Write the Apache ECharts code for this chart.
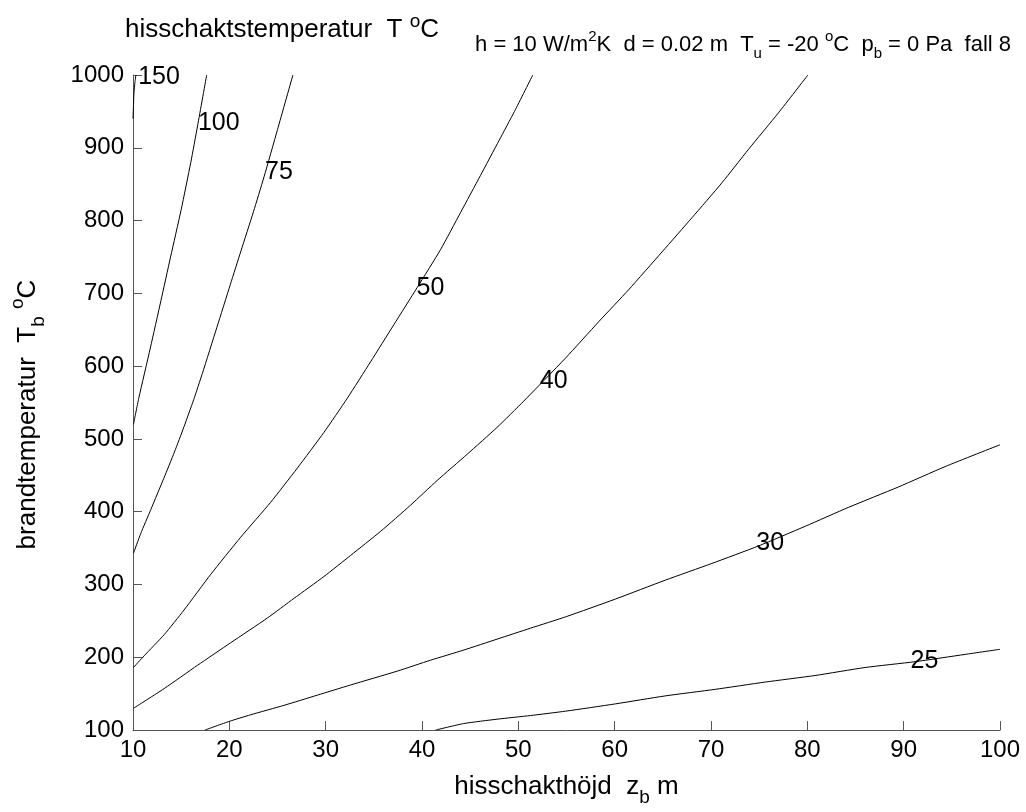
<!DOCTYPE html>
<html>
<head>
<meta charset="utf-8">
<script src="https://cdn.jsdelivr.net/npm/echarts@6/dist/echarts.min.js"></script>
<style>
html,body{margin:0;padding:0;background:#fff;}
#c{width:1026px;height:812px;}
</style>
</head>
<body>
<div id="c"></div>
<script>
// ---- data ----
const xTicks = [10, 20, 30, 40, 50, 60, 70, 80, 90, 100];
const yTicks = [100, 200, 300, 400, 500, 600, 700, 800, 900, 1000];
const levels = ['150', '100', '75', '50', '40', '30', '25'];

const c150 = [[10.0, 940], [10.05, 958], [10.1, 975], [10.2, 990], [10.3, 1000]];
const c100 = [[10.05, 520], [10.6, 556], [11.8, 625], [12.9, 690], [13.9, 750], [15.0, 815], [16.0, 880], [16.7, 930], [17.65, 1000]];
const c75 = [[10.05, 343], [10.8, 370], [11.85, 403], [13.2, 446], [14.3, 482], [15.3, 517], [16.3, 554], [17.2, 590], [18.7, 653], [20.1, 712], [21.2, 758], [22.5, 812], [23.6, 860], [25.0, 925], [26.6, 1000]];
const c50 = [[10.05, 186], [11.15, 202], [13.23, 231], [15.3, 265], [18.07, 314], [21.18, 365], [24.29, 413], [27.06, 460], [29.82, 509], [32.25, 556], [34.66, 606], [37.08, 657], [39.5, 708], [41.92, 760], [44.0, 811], [46.07, 862], [48.0, 910], [49.6, 950], [51.5, 1000]];
const c40 = [[10.05, 130], [13.23, 157], [16.69, 189], [20.14, 220], [23.95, 254], [26.71, 281], [29.82, 311], [32.59, 340], [35.7, 373], [38.81, 409], [41.58, 443], [44.69, 479], [47.8, 516], [50.56, 552], [54.89, 611], [58.34, 661], [61.45, 705], [64.92, 757], [68.03, 804], [71.14, 852], [73.9, 898], [77.0, 948], [80.06, 1000]];
const c30 = [[17.45, 100], [20, 112], [22.2, 121], [25.67, 134], [29.13, 148], [32.59, 162], [37.43, 181], [40.88, 196], [44.34, 210], [47.8, 225], [51.26, 240], [55.0, 256], [60.07, 280], [65.26, 306], [70.1, 329], [74.93, 353], [79.78, 380], [84.27, 406], [89.45, 434], [94.3, 462], [100, 492]];
const c25 = [[41.4, 100], [44.34, 109], [47.8, 115], [51.26, 120], [54.9, 126], [60.07, 136], [65.26, 147], [70.44, 156], [75.63, 166], [80.8, 175], [86, 186], [91.19, 194], [96.37, 204], [100, 211]];
const contours = [c150, c100, c75, c50, c40, c30, c25];

// contour label anchors in data coordinates: [x, y, level]
const contourLabels = [[12.7, 997, '150'], [18.9, 934, '100'], [25.15, 866, '75'], [40.88, 707, '50'], [53.67, 580, '40'], [76.15, 357, '30'], [92.15, 195, '25']];

// ---- chart ----
const FONT = 'Liberation Sans, Arial, Helvetica, sans-serif';
const chart = echarts.init(document.getElementById('c'), null, {renderer: 'canvas'});

const series = contours.map((d, i) => ({
  type: 'line',
  name: levels[i],
  data: d,
  showSymbol: false,
  symbol: 'none',
  smooth: 0.2,
  lineStyle: {color: '#000', width: 1},
  animation: false,
  silent: true,
  z: 2
}));
series.push({
  type: 'scatter',
  data: contourLabels,
  symbolSize: 0,
  itemStyle: {opacity: 1, color: '#000'},
  animation: false,
  silent: true,
  z: 5,
  label: {
    show: true,
    position: 'inside',
    formatter: p => p.data[2],
    color: '#000',
    opacity: 1,
    fontFamily: FONT,
    fontSize: 25
  }
});

chart.setOption({
  backgroundColor: '#fff',
  animation: false,
  title: [{
    text: 'hisschaktstemperatur  T {s|o}C',
    left: 120,
    top: 7,
    textStyle: {
      fontFamily: FONT, fontSize: 26, fontWeight: 'normal', color: '#000', lineHeight: 36,
      rich: {s: {fontSize: 19, verticalAlign: 'top', fontFamily: FONT, color: '#000', lineHeight: 36}}
    }
  }, {
    text: 'h = 10 W/m{s|2}K  d = 0.02 m  T{b|u} = -20 {s|o}C  p{b|b} = 0 Pa  fall 8',
    right: 10,
    top: 24,
    textStyle: {
      fontFamily: FONT, fontSize: 22, fontWeight: 'normal', color: '#000', lineHeight: 32,
      rich: {
        s: {fontSize: 15, verticalAlign: 'top', fontFamily: FONT, color: '#000', lineHeight: 32},
        b: {fontSize: 15, verticalAlign: 'bottom', fontFamily: FONT, color: '#000', lineHeight: 32}
      }
    }
  }],
  grid: {left: 132, right: 26, top: 75, bottom: 77, containLabel: false},
  xAxis: {
    type: 'value',
    min: 10, max: 100, interval: 10,
    name: 'hisschakthöjd  z{b|b} m',
    nameLocation: 'middle',
    nameGap: 33,
    nameTextStyle: {
      fontFamily: FONT, fontSize: 26, color: '#000', lineHeight: 40,
      rich: {b: {fontSize: 19, verticalAlign: 'bottom', fontFamily: FONT, color: '#000', lineHeight: 40}}
    },
    axisLine: {show: true, onZero: false, lineStyle: {color: '#555', width: 1}},
    axisTick: {show: true, inside: true, length: 9, lineStyle: {color: '#555'}},
    axisLabel: {fontFamily: FONT, fontSize: 24, color: '#000', margin: 8,
      formatter: v => xTicks.indexOf(v) >= 0 ? String(v) : ''},
    splitLine: {show: false}
  },
  yAxis: {
    type: 'value',
    min: 100, max: 1000, interval: 100,
    name: 'brandtemperatur  T{b|b} {s|o}C',
    nameLocation: 'middle',
    nameRotate: 90,
    nameGap: 85,
    nameTextStyle: {
      fontFamily: FONT, fontSize: 26, color: '#000', lineHeight: 40,
      padding: [0, 24, 0, 0],
      rich: {
        b: {fontSize: 19, verticalAlign: 'bottom', fontFamily: FONT, color: '#000', lineHeight: 40},
        s: {fontSize: 19, verticalAlign: 'top', fontFamily: FONT, color: '#000', lineHeight: 40}
      }
    },
    axisLine: {show: true, onZero: false, lineStyle: {color: '#555', width: 1}},
    axisTick: {show: true, inside: true, length: 9, lineStyle: {color: '#555'}},
    axisLabel: {fontFamily: FONT, fontSize: 24, color: '#000', margin: 9,
      formatter: v => yTicks.indexOf(v) >= 0 ? String(v) : ''},
    splitLine: {show: false}
  },
  series: series
});
</script>
</body>
</html>
